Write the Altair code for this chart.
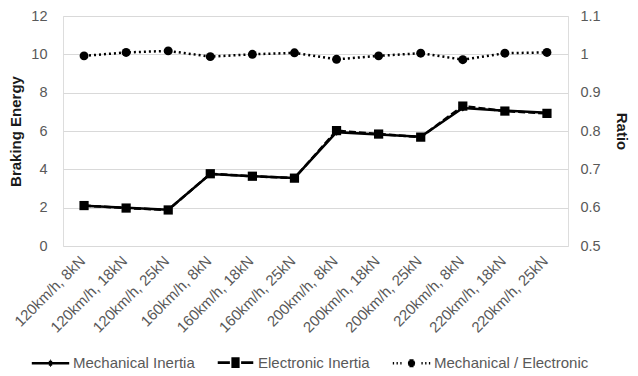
import altair as alt
import pandas as pd

categories = ["120km/h, 8kN", "120km/h, 18kN", "120km/h, 25kN",
              "160km/h, 8kN", "160km/h, 18kN", "160km/h, 25kN",
              "200km/h, 8kN", "200km/h, 18kN", "200km/h, 25kN",
              "220km/h, 8kN", "220km/h, 18kN", "220km/h, 25kN"]
mechanical = [2.10, 1.99, 1.89, 3.75, 3.64, 3.55, 5.94, 5.82, 5.70, 7.20, 7.06, 6.95]
electronic = [2.11, 1.98, 1.88, 3.77, 3.64, 3.54, 6.02, 5.84, 5.68, 7.30, 7.04, 6.92]
ratio = [0.996, 1.005, 1.009, 0.994, 1.000, 1.004, 0.987, 0.996, 1.003, 0.986, 1.003, 1.005]
series = ["Mechanical Inertia", "Electronic Inertia", "Mechanical / Electronic"]

df = pd.DataFrame({"cat": categories, "mech": mechanical, "elec": electronic,
                   "ratio": ratio, "series": [series[i % 3] for i in range(len(categories))]})

FONT = "Liberation Sans"
GRAY = "#595959"

x = alt.X("cat:N", sort=categories, title=None,
          scale=alt.Scale(paddingInner=0, paddingOuter=0),
          axis=alt.Axis(labelAngle=315, labelFontSize=15, labelColor=GRAY, labelFont=FONT,
                        labelBaseline="middle", labelAlign="right", labelOffset=-2,
                        domain=False, ticks=False, grid=False, labelPadding=12))

yleft_scale = alt.Scale(domain=[0, 12], nice=False, zero=False)
yleft_axis = alt.Axis(values=[0, 2, 4, 6, 8, 10, 12], labelFontSize=14.5, labelColor=GRAY,
                      labelFont=FONT, domain=False, ticks=False, grid=True,
                      gridColor="#d9d9d9", gridWidth=1, labelPadding=16,
                      title="Braking Energy", titleFont=FONT, titleFontSize=15,
                      titleFontWeight="bold", titleColor="#1a1a1a", titlePadding=7)

base = alt.Chart(df)

mech_line = base.mark_line(color="black", strokeWidth=2.5).encode(
    x=x, y=alt.Y("mech:Q", scale=yleft_scale, axis=yleft_axis))
mech_pts = base.mark_point(shape="diamond", size=50, filled=True, color="black",
                           opacity=1).encode(
    x=x, y=alt.Y("mech:Q", scale=yleft_scale, axis=yleft_axis))

elec_line = base.mark_line(color="black", strokeWidth=2.5, strokeDash=[7, 3]).encode(
    x=x, y=alt.Y("elec:Q", scale=yleft_scale, axis=yleft_axis))
elec_pts = base.mark_point(shape="square", size=85, filled=True, color="black",
                           opacity=1).encode(
    x=x, y=alt.Y("elec:Q", scale=yleft_scale, axis=yleft_axis))

# legend glyphs (line + solid marker drawn with stroked scan lines)
diamond_glyph = ("M-0.16,0L0.16,0M-0.09,-0.07L0.09,-0.07M-0.09,0.07L0.09,0.07"
                 "M-0.02,-0.13L0.02,-0.13M-0.02,0.13L0.02,0.13")
square_glyph = "".join(f"M-0.22,{y:.2f}L0.22,{y:.2f}" for y in
                       [-0.22, -0.15, -0.08, 0.0, 0.08, 0.15, 0.22])
circle_glyph = ("M-0.19,0L0.19,0M-0.17,-0.07L0.17,-0.07M-0.17,0.07L0.17,0.07"
                "M-0.11,-0.14L0.11,-0.14M-0.11,0.14L0.11,0.14")
legend_paths = [
    "M-1,0L1,0" + diamond_glyph,
    "M-0.95,0L-0.3,0M0.3,0L0.95,0" + square_glyph,
    "M-1,0L-0.93,0M-0.8,0L-0.73,0M-0.6,0L-0.53,0M0.53,0L0.6,0M0.73,0L0.8,0M0.93,0L1,0"
    + circle_glyph,
]

legend_layer = base.mark_point(opacity=0, color="black", strokeWidth=2.5).encode(
    x=x, y=alt.Y("mech:Q", scale=yleft_scale, axis=yleft_axis),
    shape=alt.Shape("series:N",
                    scale=alt.Scale(domain=series, range=legend_paths),
                    legend=alt.Legend(title=None, orient="none", direction="horizontal",
                                      legendX=-33, legendY=326, columns=3,
                                      symbolSize=1400, symbolOpacity=1,
                                      symbolStrokeColor="black",
                                      symbolStrokeWidth=2.6, labelFontSize=15,
                                      labelColor=GRAY, labelFont=FONT, labelOffset=2,
                                      columnPadding=17, padding=0)))

left = alt.layer(mech_line, mech_pts, elec_line, elec_pts, legend_layer)

ratio_scale = alt.Scale(domain=[0.5, 1.1], nice=False, zero=False)
ratio_axis = alt.Axis(orient="right", values=[0.5, 0.6, 0.7, 0.8, 0.9, 1.0, 1.1],
                      format=".1~f", labelFontSize=14.5, labelColor=GRAY, labelFont=FONT,
                      domain=False, ticks=False, grid=False, labelPadding=12,
                      title="Ratio", titleFont=FONT, titleFontSize=15,
                      titleFontWeight="bold", titleColor="#1a1a1a", titlePadding=13)

ratio_line = base.mark_line(color="black", strokeWidth=2.5, strokeDash=[2, 3]).encode(
    x=x, y=alt.Y("ratio:Q", scale=ratio_scale, axis=ratio_axis))
ratio_pts = base.mark_point(shape="circle", size=80, filled=True, color="black",
                            opacity=1).encode(
    x=x, y=alt.Y("ratio:Q", scale=ratio_scale, axis=ratio_axis))

right = alt.layer(ratio_line, ratio_pts)

chart = alt.layer(left, right).resolve_scale(y="independent").properties(
    width=505, height=230,
    autosize=alt.AutoSizeParams(type="none"),
    padding={"left": 63, "top": 16, "right": 70, "bottom": 130},
).configure_view(stroke=None).configure(background="white")

chart.save("out.html", embed_options={"renderer": "svg", "actions": False})
